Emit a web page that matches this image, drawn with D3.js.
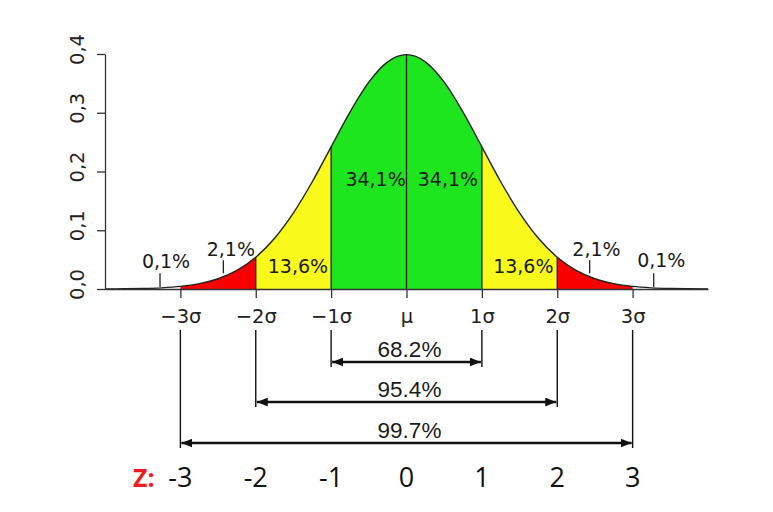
<!DOCTYPE html>
<html>
<head>
<meta charset="utf-8">
<script src="https://cdn.jsdelivr.net/npm/d3@7"></script>
<style>
  body { margin: 0; background: #fff; }
  svg { display: block; }
</style>
</head>
<body>
<svg width="773" height="512"></svg>
<script>
// density, in sigma units
const zValues = [-4, -3.75, -3.5, -3.25, -3, -2.75, -2.5, -2.25, -2, -1.75, -1.5, -1.25, -1, -0.75, -0.5, -0.25,
  0, 0.25, 0.5, 0.75, 1, 1.25, 1.5, 1.75, 2, 2.25, 2.5, 2.75, 3, 3.25, 3.5, 3.75, 4];
const density = [0.0001, 0.0004, 0.0009, 0.002, 0.0044, 0.0091, 0.0175, 0.0317, 0.054, 0.0863, 0.1295, 0.1826, 0.242, 0.3011, 0.3521, 0.3867,
  0.3989, 0.3867, 0.3521, 0.3011, 0.242, 0.1826, 0.1295, 0.0863, 0.054, 0.0317, 0.0175, 0.0091, 0.0044, 0.002, 0.0009, 0.0004, 0.0001];

// shaded bands
const bandFrom = [-3, -2, -1, 0, 1, 2];
const bandTo = [-2, -1, 0, 1, 2, 3];
const bandColor = ["#fb0000", "#f9f91c", "#1ee61e", "#1ee61e", "#f9f91c", "#fb0000"];

// percentage labels inside the plot
const pctText = ["0,1%", "2,1%", "13,6%", "34,1%", "34,1%", "13,6%", "2,1%", "0,1%"];
const pctZ = [-3.19, -2.33, -1.44, -0.41, 0.55, 1.55, 2.52, 3.38];
const pctY = [0.036, 0.056, 0.027, 0.175, 0.175, 0.027, 0.056, 0.037];

// little pointers under the small labels
const pointerZ = [-3.27, -2.43, 2.43, 3.28];
const pointerTop = [0.027, 0.049, 0.049, 0.027];
const pointerBottom = [0.0034, 0.027, 0.027, 0.0034];

const yTicks = [0, 0.1, 0.2, 0.3, 0.4];
const sigmaTicks = [-3, -2, -1, 0, 1, 2, 3];
const sigmaLabels = ["\u22123\u03c3", "\u22122\u03c3", "\u22121\u03c3", "\u03bc", "1\u03c3", "2\u03c3", "3\u03c3"];

// coverage brackets
const spanSigma = [1, 2, 3];
const spanText = ["68.2%", "95.4%", "99.7%"];

const zLabels = ["-3", "-2", "-1", "0", "1", "2", "3"];

const svg = d3.select("svg");
const x = d3.scaleLinear().domain([-4, 4]).range([105, 708]);
const y = d3.scaleLinear().domain([0, 0.4]).range([289, 54]);

const pts = zValues.map((z, i) => ({ z: z, d: density[i] }));
const dens = z => density[zValues.indexOf(z)];

const area = d3.area()
  .x(d => x(d.z))
  .y0(y(0))
  .y1(d => y(d.d))
  .curve(d3.curveMonotoneX);

const line = d3.line()
  .x(d => x(d.z))
  .y(d => y(d.d))
  .curve(d3.curveMonotoneX);

// clip each band out of the same full area
const defs = svg.append("defs");
bandFrom.forEach((a, i) => {
  defs.append("clipPath").attr("id", "band" + i)
    .append("rect")
    .attr("x", x(a))
    .attr("y", 0)
    .attr("width", x(bandTo[i]) - x(a))
    .attr("height", y(0) + 1);
});

svg.append("g").selectAll("path")
  .data(bandFrom)
  .join("path")
  .attr("d", area(pts))
  .attr("fill", (d, i) => bandColor[i])
  .attr("clip-path", (d, i) => "url(#band" + i + ")");

// separators between bands
svg.append("g").selectAll("line")
  .data([-2, -1, 0, 1, 2])
  .join("line")
  .attr("x1", d => x(d))
  .attr("x2", d => x(d))
  .attr("y1", y(0))
  .attr("y2", d => y(dens(d)))
  .attr("stroke", "#1a1a1a")
  .attr("stroke-width", 1.3);

svg.append("path")
  .attr("d", line(pts))
  .attr("fill", "none")
  .attr("stroke", "#222")
  .attr("stroke-width", 1.4);

// axes
const yAxis = svg.append("g")
  .attr("transform", "translate(" + x(-4) + ",0)")
  .call(d3.axisLeft(y).tickValues(yTicks).tickSize(8).tickSizeOuter(0)
    .tickFormat(d => d.toFixed(1).replace(".", ",")));

yAxis.selectAll("text")
  .attr("transform", "rotate(-90)")
  .attr("x", 5)
  .attr("y", -21)
  .attr("dy", 0)
  .attr("text-anchor", "middle");

const xAxis = svg.append("g")
  .attr("transform", "translate(0," + y(0) + ")")
  .call(d3.axisBottom(x).tickValues(sigmaTicks).tickSize(9).tickSizeOuter(0)
    .tickFormat((d, i) => sigmaLabels[i]));

xAxis.selectAll("text")
  .attr("y", 34)
  .attr("dy", 0);

svg.selectAll(".tick text")
  .attr("font-family", "DejaVu Sans")
  .attr("font-size", 19.5)
  .attr("fill", "#222");
svg.selectAll(".domain, .tick line")
  .attr("stroke", "#333")
  .attr("stroke-width", 1.3);

// percentages on the curve
svg.append("g").selectAll("text")
  .data(pctText)
  .join("text")
  .attr("x", (d, i) => x(pctZ[i]))
  .attr("y", (d, i) => y(pctY[i]))
  .attr("text-anchor", "middle")
  .attr("font-family", "DejaVu Sans")
  .attr("font-size", 19)
  .attr("fill", "#1a1a1a")
  .text(d => d);

svg.append("g").selectAll("line")
  .data(pointerZ)
  .join("line")
  .attr("x1", d => x(d))
  .attr("x2", d => x(d))
  .attr("y1", (d, i) => y(pointerTop[i]))
  .attr("y2", (d, i) => y(pointerBottom[i]))
  .attr("stroke", "#222")
  .attr("stroke-width", 1.3);

// arrow heads
["start", "end"].forEach(k => {
  defs.append("marker")
    .attr("id", "arrow-" + k)
    .attr("viewBox", "0 0 10 8")
    .attr("refX", k === "end" ? 10 : 0)
    .attr("refY", 4)
    .attr("markerUnits", "userSpaceOnUse")
    .attr("markerWidth", 11)
    .attr("markerHeight", 9)
    .attr("orient", "auto")
    .append("path")
    .attr("d", k === "end" ? "M0,0L10,4L0,8Z" : "M10,0L0,4L10,8Z")
    .attr("fill", "#111");
});

const arrowY = [362, 402, 443];
const bracket = svg.append("g");

bracket.selectAll("line.side")
  .data(spanSigma.flatMap((s, i) => [{ z: -s, i: i }, { z: s, i: i }]))
  .join("line")
  .attr("class", "side")
  .attr("x1", d => x(d.z))
  .attr("x2", d => x(d.z))
  .attr("y1", 330)
  .attr("y2", d => arrowY[d.i] + 5)
  .attr("stroke", "#111")
  .attr("stroke-width", 1.4);

bracket.selectAll("line.span")
  .data(spanSigma)
  .join("line")
  .attr("class", "span")
  .attr("x1", d => x(-d) + 1)
  .attr("x2", d => x(d) - 1)
  .attr("y1", (d, i) => arrowY[i])
  .attr("y2", (d, i) => arrowY[i])
  .attr("stroke", "#111")
  .attr("stroke-width", 2.4)
  .attr("marker-start", "url(#arrow-start)")
  .attr("marker-end", "url(#arrow-end)");

bracket.selectAll("text")
  .data(spanText)
  .join("text")
  .attr("x", x(0) + 3)
  .attr("y", (d, i) => arrowY[i] - 5)
  .attr("text-anchor", "middle")
  .attr("font-family", "Liberation Sans, Arial, sans-serif")
  .attr("font-size", 22.5)
  .attr("fill", "#1a1a1a")
  .text(d => d);

// Z row
svg.append("text")
  .attr("x", 133)
  .attr("y", 487)
  .attr("font-family", "Open Sans, sans-serif")
  .attr("font-weight", "bold")
  .attr("font-size", 25)
  .attr("fill", "#ee1c1c")
  .text("Z:");

svg.append("g").selectAll("text")
  .data(zLabels)
  .join("text")
  .attr("x", (d, i) => x(sigmaTicks[i]))
  .attr("y", 487)
  .attr("text-anchor", "middle")
  .attr("font-family", "Open Sans, sans-serif")
  .attr("font-size", 27)
  .attr("fill", "#111")
  .text(d => d);
</script>
</body>
</html>
